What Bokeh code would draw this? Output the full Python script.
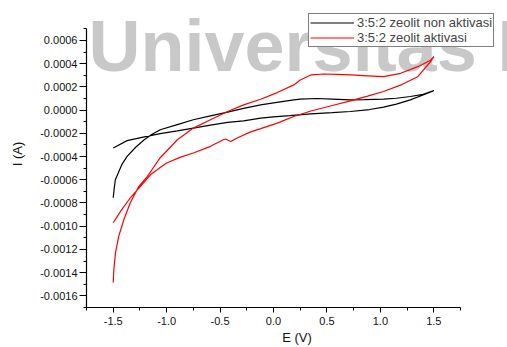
from bokeh.plotting import figure
from bokeh.models import (Legend, LegendItem, FixedTicker, PrintfTickFormatter, Label, Range1d)
from bokeh.embed import file_html
from bokeh.resources import INLINE

# Cyclic voltammetry loops (potential E in V, current I in A)
# 3:5:2 zeolite, non-activated
e_non = [-1.50, -1.37, -1.22, -1.06, -0.90, -0.75, -0.59, -0.43, -0.28, -0.12, 0.00,
         0.15, 0.35, 0.55, 0.72, 0.90, 1.03, 1.15, 1.28, 1.40, 1.50,
         1.40, 1.28, 1.15, 1.03, 0.85, 0.72, 0.55, 0.41, 0.25, 0.19, 0.00, -0.12,
         -0.28, -0.43, -0.59, -0.75, -0.90, -1.06, -1.14, -1.21, -1.29, -1.37, -1.42,
         -1.45, -1.48, -1.49, -1.50]
i_non = [-3.26e-4, -2.63e-4, -2.33e-4, -2.03e-4, -1.79e-4, -1.55e-4, -1.30e-4, -1.06e-4,
         -9.3e-5, -6.9e-5, -5.9e-5, -4.8e-5, -3.2e-5, -2.2e-5, -1.2e-5, 5e-6, 2.6e-5,
         5.2e-5, 8.8e-5, 1.30e-4, 1.68e-4,
         1.35e-4, 1.17e-4, 1.02e-4, 9.4e-5, 9.0e-5, 8.8e-5, 9.5e-5, 1.00e-4, 9.4e-5,
         8.8e-5, 6.2e-5, 4.5e-5, 1.5e-5, -1.7e-5, -5.0e-5, -8.3e-5, -1.25e-4, -1.69e-4,
         -2.10e-4, -2.55e-4, -3.20e-4, -3.98e-4, -4.70e-4, -5.35e-4, -6.00e-4, -6.70e-4,
         -7.55e-4]

# 3:5:2 zeolite, activated
e_akt = [-1.50, -1.43, -1.34, -1.245, -1.15, -1.06, -1.00, -0.87, -0.75, -0.59, -0.47,
         -0.45, -0.40, -0.34, -0.22, -0.12, 0.035, 0.19, 0.35, 0.55, 0.72, 0.88, 1.03,
         1.20, 1.35, 1.47, 1.50,
         1.47, 1.35, 1.19, 1.03, 0.88, 0.72, 0.60, 0.47, 0.35, 0.25, 0.19, 0.035,
         -0.12, -0.28, -0.43, -0.59, -0.75, -0.90, -1.06, -1.12, -1.18, -1.26, -1.34,
         -1.40, -1.448, -1.478, -1.494, -1.50]
i_akt = [-9.70e-4, -8.70e-4, -7.55e-4, -6.56e-4, -5.55e-4, -4.95e-4, -4.55e-4, -4.05e-4,
         -3.69e-4, -3.12e-4, -2.55e-4, -2.49e-4, -2.70e-4, -2.40e-4, -1.90e-4, -1.60e-4,
         -1.12e-4, -5.5e-5, -8e-6, 4.0e-5, 8.0e-5, 1.20e-4, 1.60e-4, 2.20e-4, 2.88e-4,
         4.17e-4, 4.60e-4,
         4.30e-4, 3.74e-4, 3.17e-4, 2.88e-4, 2.95e-4, 3.03e-4, 3.08e-4, 3.11e-4, 3.03e-4,
         2.60e-4, 2.17e-4, 1.51e-4, 9.4e-5, 4.5e-5, -1.2e-5, -8.3e-5, -1.55e-4, -2.55e-4,
         -4.10e-4, -4.90e-4, -5.70e-4, -6.56e-4, -7.98e-4, -9.42e-4, -1.085e-3,
         -1.225e-3, -1.371e-3, -1.485e-3]

labels = ["3:5:2 zeolit non aktivasi", "3:5:2 zeolit aktivasi"]
x_ticks = [-1.5, -1.0, -0.5, 0.0, 0.5, 1.0, 1.5]
y_ticks = [-0.0016, -0.0014, -0.0012, -0.0010, -0.0008, -0.0006, -0.0004, -0.0002,
           0.0, 0.0002, 0.0004, 0.0006]
x_axis_span = (-1.75, 1.75)
y_axis_span = (-0.0017, 0.0007)
watermark_words = ["Universitas", "Indonesia"]

FONT = "Liberation Sans"

# The plotting area reaches the top and right edges of the page so the legend and the
# background lettering are not clipped; the axes themselves are bounded to their spans.
p = figure(width=507, height=347, output_backend="svg", toolbar_location=None,
           x_range=Range1d(-1.75, 2.1897), y_range=Range1d(-0.0017, 0.000944),
           min_border_left=86, min_border_right=0, min_border_top=0, min_border_bottom=39,
           x_axis_label="E (V)", y_axis_label="I (A)")
p.outline_line_color = None
p.grid.visible = False
p.background_fill_color = "white"
p.border_fill_color = "white"

# background watermark lettering
for word, wx in zip(watermark_words, (2, 411)):
    p.add_layout(Label(x=wx, y=262, x_units="screen", y_units="screen", text=word,
                       text_font=FONT, text_font_style="bold",
                       text_font_size="72px", text_color="#c8c8c8",
                       text_baseline="alphabetic", level="underlay"))

r_non = p.line(e_non, i_non, line_color="black", line_width=1.2)
r_akt = p.line(e_akt, i_akt, line_color="red", line_width=1.2)

xa = p.xaxis[0]
xa.bounds = x_axis_span
xa.ticker = FixedTicker(ticks=x_ticks, minor_ticks=[-1.75 + 0.25 * k for k in range(15)])
xa.formatter = PrintfTickFormatter(format="%.1f")
xa.major_tick_out = 5
xa.major_tick_in = 0
xa.minor_tick_out = 3
xa.minor_tick_in = 0
xa.major_label_standoff = 4
xa.axis_label_standoff = 2

ya = p.yaxis[0]
ya.bounds = y_axis_span
ya.ticker = FixedTicker(ticks=y_ticks, minor_ticks=[-0.0017 + 0.0001 * k for k in range(25)])
ya.formatter = PrintfTickFormatter(format="%.4f")
ya.major_tick_out = 7
ya.major_tick_in = 0
ya.minor_tick_out = 3
ya.minor_tick_in = 0
ya.major_label_standoff = 2
ya.axis_label_standoff = 12

for ax in (xa, ya):
    ax.axis_line_color = "black"
    ax.axis_line_width = 1.2
    ax.major_tick_line_color = "black"
    ax.minor_tick_line_color = "black"
    ax.major_label_text_font = FONT
    ax.major_label_text_font_size = "11px"
    ax.major_label_text_color = "#111111"
    ax.axis_label_text_font = FONT
    ax.axis_label_text_font_size = "13px"
    ax.axis_label_text_font_style = "normal"
    ax.axis_label_text_color = "#111111"

legend = Legend(items=[LegendItem(label=labels[0], renderers=[r_non]),
                       LegendItem(label=labels[1], renderers=[r_akt])],
                location=(222, 260), padding=1, spacing=0, margin=0,
                glyph_width=44, glyph_height=15, label_height=15, label_standoff=3,
                label_text_font=FONT, label_text_font_size="13px",
                border_line_color="black", border_line_width=1,
                background_fill_color="white", background_fill_alpha=1.0)
p.add_layout(legend)

open("out.html", "w").write(file_html(p, INLINE))
